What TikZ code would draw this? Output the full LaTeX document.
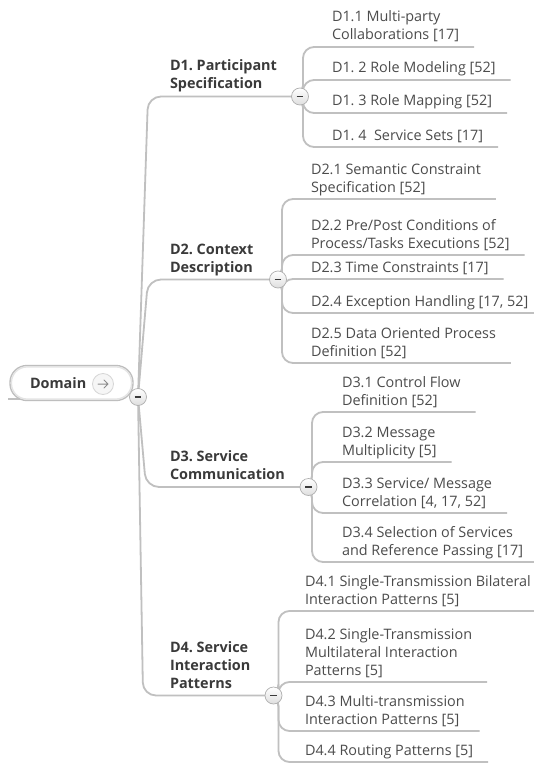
\documentclass[tikz,border=0pt]{standalone}
\usepackage{fontspec}
\setmainfont{Open Sans}
\frenchspacing
\definecolor{linegray}{RGB}{192,192,192}
\definecolor{leafgray}{RGB}{76,76,76}
\definecolor{headgray}{RGB}{58,58,58}
\definecolor{knobedge}{RGB}{175,175,175}
\definecolor{knobshade}{RGB}{222,222,222}
\definecolor{pillgray}{RGB}{190,190,190}
\definecolor{pillinner}{RGB}{228,228,228}
\definecolor{arrowgray}{RGB}{140,140,140}
\definecolor{goedge}{RGB}{214,214,214}
\definecolor{gofill}{RGB}{246,246,246}
\pgfdeclarelayer{bg}
\pgfsetlayers{bg,main}
% multi-line topic text, rows spaced by the current \baselineskip
\newcommand{\topiclines}[1]{\begin{tabular}{@{}l@{}}#1\end{tabular}}

\begin{document}
\begin{tikzpicture}[x=1pt,y=-1pt,
  every node/.style={inner sep=0pt,outer sep=0pt},
  leaf/.style={anchor=south west,inner ysep=1.6pt,text=leafgray,
    font=\fontsize{14.4}{18}\selectfont},
  head/.style={anchor=south west,inner ysep=1.6pt,text=headgray,
    font=\fontsize{14.4}{18}\selectfont\bfseries},
  conn/.style={draw=linegray,line width=1.8pt,rounded corners=11pt},
  trunk/.style={conn,rounded corners=13pt},
  knob/.style={circle,minimum size=17pt,draw=knobedge,line width=0.7pt,
    top color=white,bottom color=knobshade,
    path picture={\draw[headgray,line width=1.8pt]
      ([xshift=-3.4pt]path picture bounding box.center) --
      ([xshift=3.4pt]path picture bounding box.center);}},
  pill/.style={draw=pillgray,line width=1.4pt,fill=white,rounded corners=16pt,
    minimum width=122pt,minimum height=34pt,
    postaction={draw=pillinner,line width=1.4pt,
      shorten >=0pt,transform canvas={scale=1}}},
  goknob/.style={circle,minimum size=21pt,draw=goedge,line width=0.8pt,
    fill=gofill,
    path picture={\draw[arrowgray,line width=1pt,line cap=round,line join=round]
      ([xshift=-5pt]path picture bounding box.center) --
      ([xshift=5pt]path picture bounding box.center)
      ([xshift=1pt,yshift=4pt]path picture bounding box.center) --
      ([xshift=5pt]path picture bounding box.center) --
      ([xshift=1pt,yshift=-4pt]path picture bounding box.center);}},
]
\useasboundingbox (0,0) rectangle (533,765);

% central topic: outer grey rim with a lighter inner band
\coordinate (tail) at (8,399);
\node[draw=pillgray,line width=1.4pt,fill=white,rounded corners=17pt,
  minimum width=123pt,minimum height=35pt] (dom) at (71.5,383) {};
\draw[draw=pillinner,line width=1.4pt,rounded corners=15.6pt]
  ([xshift=1.4pt,yshift=1.4pt]dom.south west) rectangle ([xshift=-1.4pt,yshift=-1.4pt]dom.north east);
\node[anchor=base west,text=headgray,font=\fontsize{14.4}{18}\selectfont\bfseries]
  (domtxt) at (30,388) {Domain};
\node[goknob] (go) at (103,384) {};
\node[knob] (k0) at (138,397) {};

% main branches
\node[head] (h1) at (170,96)  {\topiclines{D1. Participant\\Specification}};
\node[head] (h2) at (170,279) {\topiclines{D2. Context\\Description}};
\node[head] (h3) at (170,486) {\topiclines{D3. Service\\Communication}};
\node[head] (h4) at (170,695) {\topiclines{D4. Service\\Interaction\\Patterns}};
\node[knob] (k1) at (300,96.5) {};
\node[knob] (k2) at (278,279.5) {};
\node[knob] (k3) at (308.5,487) {};
\node[knob] (k4) at (273.5,695.5) {};

% D1 subtopics
\node[leaf] (t11) at (332,47)  {\topiclines{D1.1 Multi-party\\Collaborations [17]}};
\node[leaf] (t12) at (332,80)  {\topiclines{D1. 2 Role Modeling [52]}};
\node[leaf] (t13) at (332,113) {\topiclines{D1. 3 Role Mapping [52]}};
\node[leaf] (t14) at (332,147) {\topiclines{D1. 4\ \ Service Sets [17]}};

% D2 subtopics
\node[leaf] (t21) at (311,199) {\topiclines{D2.1 Semantic Constraint\\Specification [52]}};
\node[leaf] (t22) at (311,255) {\topiclines{D2.2 Pre/Post Conditions of\\Process/Tasks Executions [52]}};
\node[leaf] (t23) at (311,279) {\topiclines{D2.3 Time Constraints [17]}};
\node[leaf] (t24) at (311,313) {\topiclines{D2.4 Exception Handling [17, 52]}};
\node[leaf] (t25) at (311,363) {\topiclines{D2.5 Data Oriented Process\\Definition [52]}};

% D3 subtopics
\node[leaf] (t31) at (342,412) {\topiclines{D3.1 Control Flow\\Definition [52]}};
\node[leaf] (t32) at (342,462) {\topiclines{D3.2 Message\\Multiplicity [5]}};
\node[leaf] (t33) at (342,513) {\topiclines{D3.3 Service/ Message\\Correlation [4, 17, 52]}};
\node[leaf] (t34) at (342,562) {\topiclines{D3.4 Selection of Services\\and Reference Passing [17]}};

% D4 subtopics
\node[leaf] (t41) at (305,611) {\topiclines{D4.1 Single-Transmission Bilateral\\Interaction Patterns [5]}};
\node[leaf] (t42) at (305,682) {\topiclines{D4.2 Single-Transmission\\Multilateral Interaction\\Patterns [5]}};
\node[leaf] (t43) at (305,731) {\topiclines{D4.3 Multi-transmission\\Interaction Patterns [5]}};
\node[leaf] (t44) at (305,762) {\topiclines{D4.4 Routing Patterns [5]}};

\begin{pgfonlayer}{bg}
  \fill[white] (0,0) rectangle (533,765);
  \draw[draw=linegray,line width=1.8pt] (tail) -- ([xshift=22pt]tail);
  % trunk to main branches
  \draw[trunk] (k0.center) -- (148,96.5)  -- (k1.center);
  \draw[trunk] (k0.center) -- (148,279.5) -- (k2.center);
  \draw[trunk] (k0.center) -- (146,487)   -- (k3.center);
  \draw[trunk] (k0.center) -- (143,695.5) -- (k4.center);
  % D1
  \foreach \t in {t11,t12,t13,t14}
    \draw[conn] (k1.center) -- ++(3,0) |- ([xshift=15pt]\t.south east);
  % D2
  \foreach \t in {t21,t22,t23,t24,t25}
    \draw[conn] (k2.center) -- ++(4,0) |- ([xshift=15pt]\t.south east);
  % D3
  \foreach \t in {t31,t32,t33,t34}
    \draw[conn] (k3.center) -- ++(3.5,0) |- ([xshift=15pt]\t.south east);
  % D4
  \foreach \t in {t41,t42,t43,t44}
    \draw[conn] (k4.center) -- ++(5,0) |- ([xshift=15pt]\t.south east);
\end{pgfonlayer}
\end{tikzpicture}
\end{document}
